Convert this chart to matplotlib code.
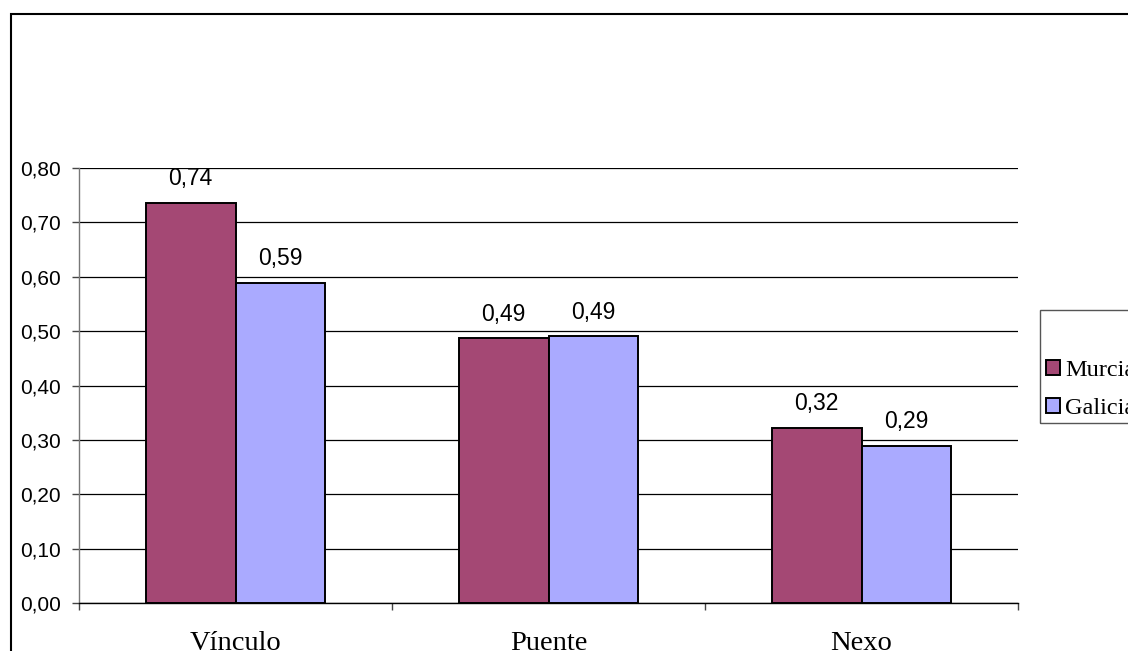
import matplotlib
matplotlib.use("Agg")
import matplotlib.pyplot as plt
import numpy as np
from matplotlib.patches import Rectangle

categories = ["Vínculo", "Puente", "Nexo"]
series_names = ["Murcia", "Galicia"]
murcia = [0.736, 0.487, 0.322]
galicia = [0.589, 0.491, 0.289]
yticks = [0.0, 0.1, 0.2, 0.3, 0.4, 0.5, 0.6, 0.7, 0.8]

color_m = "#A44874"
color_g = "#AAAAFF"

W, H = 1128, 651
fig = plt.figure(figsize=(W / 100, H / 100), dpi=100)
ax = fig.add_axes([79 / W, 1 - 603 / H, (1018 - 79) / W, (603 - 168) / H])

x = np.arange(len(categories))
bw = 0.287
sans = "Liberation Sans"
serif = "Liberation Serif"

bars_m = ax.bar(x - bw / 2, murcia, bw, color=color_m, edgecolor="black",
                linewidth=1.4, label=series_names[0], zorder=3)
bars_g = ax.bar(x + bw / 2, galicia, bw, color=color_g, edgecolor="black",
                linewidth=1.4, label=series_names[1], zorder=3)

for bars, vals in ((bars_m, murcia), (bars_g, galicia)):
    for b, v in zip(bars, vals):
        ax.annotate(f"{v:.2f}".replace(".", ","),
                    (b.get_x() + b.get_width() / 2, v),
                    xytext=(0, 9), textcoords="offset points",
                    ha="center", va="bottom", fontsize=16.5, family=sans)

ax.set_xlim(-0.5, len(categories) - 0.5)
ax.set_ylim(0, 0.8)
ax.set_yticks(yticks)
ax.set_yticklabels([f"{t:.2f}".replace(".", ",") for t in yticks],
                   fontsize=15, family=sans)
ax.yaxis.grid(True, color="black", linewidth=0.9, zorder=0)
ax.set_axisbelow(True)

ax.set_xticks(x)
ax.set_xticklabels(categories, fontsize=20.5, family=serif)
ax.set_xticks(np.arange(len(categories) + 1) - 0.5, minor=True)
ax.tick_params(axis="x", which="major", length=0, pad=20)
ax.tick_params(axis="x", which="minor", length=5, width=1, color="#444444")
ax.tick_params(axis="y", length=5, width=1, color="#444444", pad=8)

for s in ("top", "right"):
    ax.spines[s].set_visible(False)
ax.spines["left"].set_color("#777777")
ax.spines["left"].set_linewidth(1)
ax.spines["bottom"].set_color("black")
ax.spines["bottom"].set_linewidth(1)

# outer chart border
fig.patches.append(Rectangle((11 / W, -0.1), 2, 1 - 14 / H + 0.1,
                             transform=fig.transFigure, fill=False,
                             edgecolor="black", linewidth=1.5))
# legend frame
fig.patches.append(Rectangle((1040 / W, 1 - 423 / H), 0.5, (423 - 310) / H,
                             transform=fig.transFigure, fill=False,
                             edgecolor="#555555", linewidth=1.0))

leg = fig.legend(handles=[bars_m, bars_g], loc="upper left",
                 bbox_to_anchor=(1046 / W, 1 - 360 / H), frameon=False,
                 prop={"family": serif, "size": 17.5}, handlelength=0.58,
                 handleheight=0.55, handletextpad=0.2, labelspacing=0.7,
                 borderpad=0, borderaxespad=0)
for h in leg.legend_handles:
    h.set_edgecolor("black")
    h.set_linewidth(1.4)

fig.savefig("out.png", dpi=100)
